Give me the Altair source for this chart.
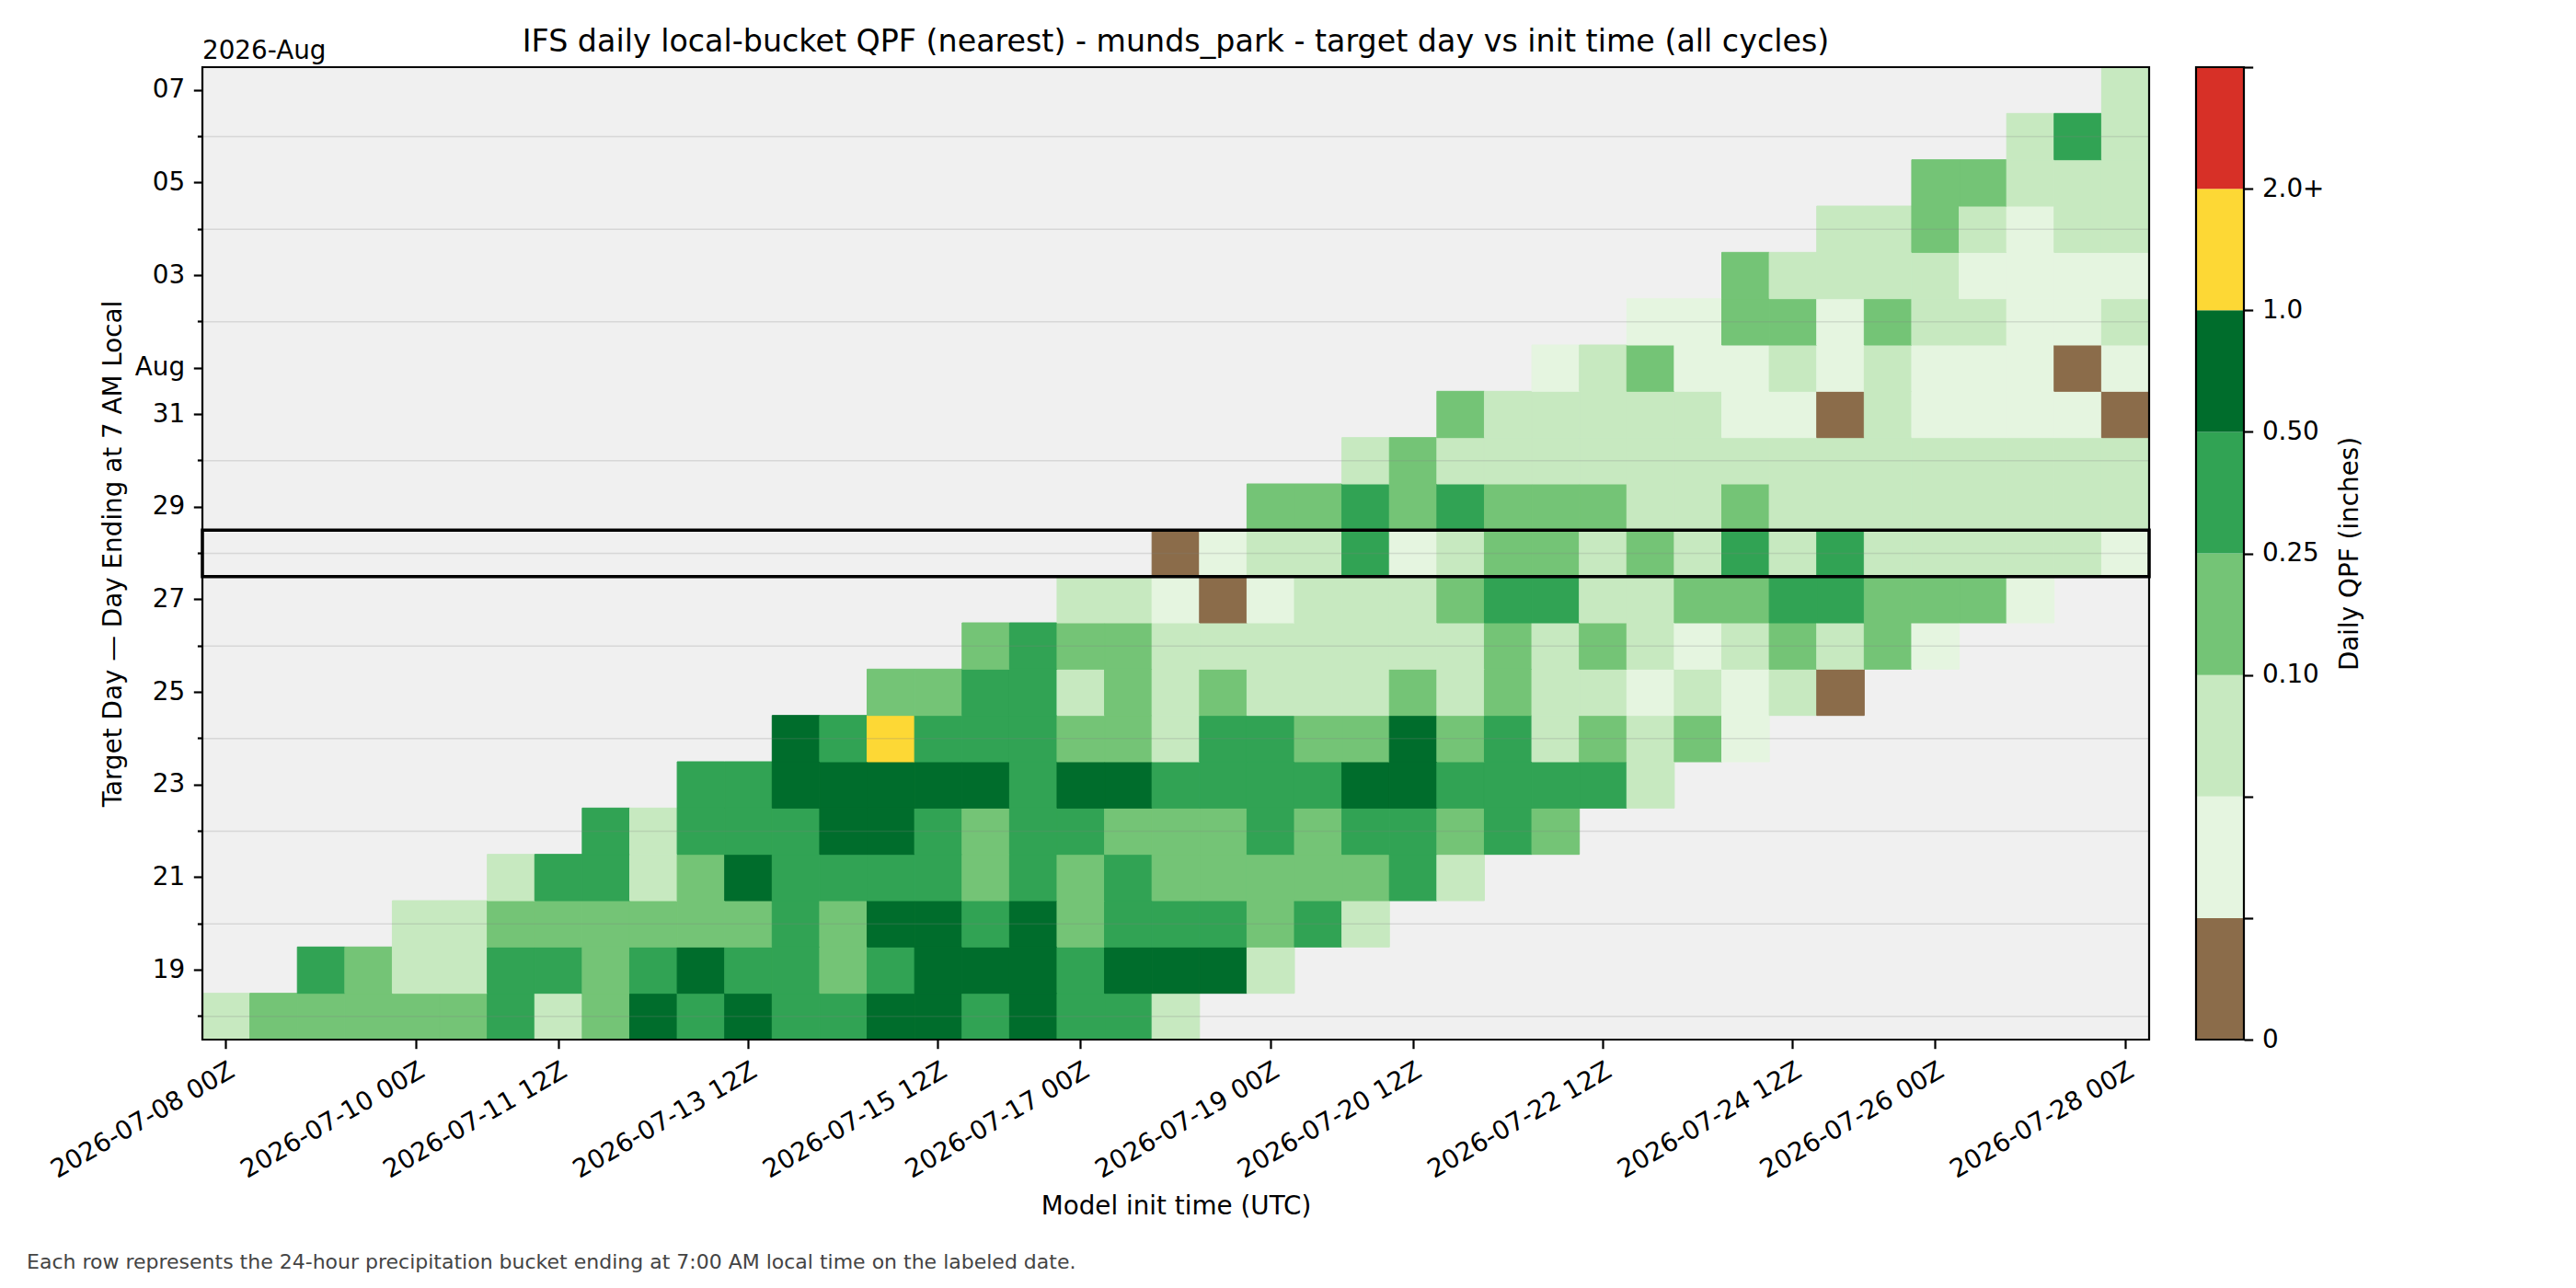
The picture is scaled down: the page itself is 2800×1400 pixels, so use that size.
import json

import altair as alt
import pandas as pd

# ---- layout (pixels) -------------------------------------------------------
W, H = 2116, 1057
PAD = {"left": 220, "top": 73, "right": 464, "bottom": 270}
FONT = "DejaVu Sans"
FS = 27.8          # 10 pt at 200 dpi
CBAR_X = (2167, 2219)

# ---- categories ------------------------------------------------------------
INIT_TIMES = list(
    pd.date_range("2026-07-08 00:00", "2026-07-28 00:00", freq="12h").strftime("%Y-%m-%d %HZ")
)
X_TICKS = [
    "2026-07-08 00Z", "2026-07-10 00Z", "2026-07-11 12Z", "2026-07-13 12Z",
    "2026-07-15 12Z", "2026-07-17 00Z", "2026-07-19 00Z", "2026-07-20 12Z",
    "2026-07-22 12Z", "2026-07-24 12Z", "2026-07-26 00Z", "2026-07-28 00Z",
]
TARGET_DAYS = list(pd.date_range("2026-07-18", "2026-08-07", freq="D").strftime("%Y-%m-%d"))

# ---- forecast QPF class per target day ---------------------------------------
# (index of first init cycle that covers the day, class code for each cycle)
# B: dry (<0.01"), v: 0.01-0.05, l: 0.05-0.10, m: 0.10-0.25, g: 0.25-0.50,
# d: 0.50-1.0, y: 1.0-2.0
QPF_ROWS = [
    (0,  "lmmmmmglmdgdggddgdggl"),   # Jul 18
    (2,  "gmllggmgdggmgdddgdddl"),   # Jul 19
    (4,  "llmmmmmmgmddgdmgggmgl"),   # Jul 20
    (6,  "lgglmdggggmgmgmmmmmgl"),   # Jul 21
    (8,  "glgggddgmggmmmgmggmgm"),   # Jul 22
    (10, "ggdddddgddggggddggggl"),   # Jul 23
    (12, "dgygggmmlggmmdmglmlmv"),   # Jul 24
    (14, "mmgglmlmlllmlmllvlvlB"),   # Jul 25
    (16, "mgmmlllllllmlmlvlmlmv"),   # Jul 26
    (18, "llvBvlllmggllmmggmmmv"),   # Jul 27
    (20, "Bvllgvlmmlmlglglllllv"),   # Jul 28
    (22, "mmgmgmmmllmllllllll"),     # Jul 29
    (24, "lmlllllllllllllll"),       # Jul 30
    (26, "mlllllvvBlvvvvB"),         # Jul 31
    (28, "vlmvvlvlvvvBv"),           # Aug 01
    (30, "vvmmvmllvvl"),             # Aug 02
    (32, "mllllvvvv"),               # Aug 03
    (34, "llmlvll"),                 # Aug 04
    (36, "mmlll"),                   # Aug 05
    (38, "lgl"),                     # Aug 06
    (40, "l"),                       # Aug 07
]
CLASS_QPF = {"B": 0.0, "v": 0.03, "l": 0.07, "m": 0.17, "g": 0.35, "d": 0.70, "y": 1.30}

# ---- colour classes ----------------------------------------------------------
BREAKS = [0.01, 0.05, 0.10, 0.25, 0.50, 1.0, 2.0]
PALETTE = ["#8b6c4a", "#e5f5e0", "#c7e9c0", "#74c476", "#31a354", "#006d2c", "#fdd835", "#d73027"]
BAND_QPF = [0.0, 0.03, 0.07, 0.17, 0.35, 0.70, 1.30, 2.50]
CBAR_LABELS = ["0", "", "", "0.10", "0.25", "0.50", "1.0", "2.0+", ""]

HIGHLIGHT_DAY = "2026-07-28"
TITLE = "IFS daily local-bucket QPF (nearest) - munds_park - target day vs init time (all cycles)"
NOTE = "Each row represents the 24-hour precipitation bucket ending at 7:00 AM local time on the labeled date."

# ---- tables ----------------------------------------------------------------
records = []
for day, (start, codes) in zip(TARGET_DAYS, QPF_ROWS):
    for k, code in enumerate(codes):
        records.append({"init": INIT_TIMES[start + k], "day": day, "qpf": CLASS_QPF[code]})
cells_df = pd.DataFrame(records)

grid_df = pd.DataFrame({"day": [d for d in TARGET_DAYS if int(d[-2:]) % 2 == 0]})
bands_df = pd.DataFrame({"lo": list(range(8)), "hi": list(range(1, 9)), "qpf": BAND_QPF})
one = pd.DataFrame({"k": [0]})

# ---- scales and axes -----------------------------------------------------------
X_SCALE = alt.Scale(domain=INIT_TIMES, paddingInner=0, paddingOuter=0)
Y_SCALE = alt.Scale(domain=TARGET_DAYS[::-1], paddingInner=0, paddingOuter=0)
FILL_SCALE = alt.Scale(type="threshold", domain=BREAKS, range=PALETTE)

ODD_DAY = "toNumber(slice(datum.value, 8, 10)) % 2 == 1"
y_label_expr = (
    f"({ODD_DAY}) ? (slice(datum.value, 8, 10) == '01' ? utcFormat(toDate(datum.value), '%b') "
    ": slice(datum.value, 8, 10)) : ''"
)

x_axis = alt.Axis(
    values=X_TICKS, labelAngle=-30, labelAlign="right", labelBaseline="top",
    labelPadding=9.7, tickSize=9.7, labelOverlap=False, labelBound=False, labelFlush=False,
    labelLimit=0,
    title="Model init time (UTC)", titleX=W / 2, titleY=189,
    titleAlign="center", titleBaseline="alphabetic",
)
y_axis = alt.Axis(
    values=TARGET_DAYS, labelExpr=y_label_expr, labelOverlap=False, labelPadding=9.7,
    labelLimit=0,
    tickSize={"condition": {"test": ODD_DAY, "value": 9.7}, "value": 5.6},
    title="Target Day \u2014 Day Ending at 7 AM Local", titleX=-89, titleY=H / 2,
    titleAngle=270, titleAlign="center", titleBaseline="alphabetic",
)
Y_DAY = alt.Y("day:O", scale=Y_SCALE, axis=y_axis)

# ---- heatmap panel -------------------------------------------------------------
cells = alt.Chart(cells_df).mark_rect(strokeWidth=1).encode(
    x=alt.X("init:O", scale=X_SCALE, axis=x_axis),
    y=Y_DAY,
    fill=alt.Fill("qpf:Q", scale=FILL_SCALE, legend=None),
    stroke=alt.Stroke("qpf:Q", scale=FILL_SCALE, legend=None),
)

grid = alt.Chart(grid_df).mark_rule(color="#7f7f7f", opacity=0.22, strokeWidth=1.5).encode(
    y=Y_DAY,
    x=alt.value(0),
    x2=alt.value(W),
)

highlight = alt.Chart(pd.DataFrame({"day": [HIGHLIGHT_DAY]})).mark_rect(
    fillOpacity=0, stroke="black", strokeWidth=3.5
).encode(
    y=Y_DAY,
    x=alt.value(0),
    x2=alt.value(W),
)

frame = alt.Chart(one).mark_rect(fillOpacity=0, stroke="black", strokeWidth=2.2).encode(
    x=alt.value(0), x2=alt.value(W), y=alt.value(0), y2=alt.value(H)
)

title_txt = alt.Chart(one).mark_text(
    text=TITLE, font=FONT, fontSize=33.3, align="center", baseline="alphabetic", color="black"
).encode(x=alt.value(W / 2), y=alt.value(-16.7))

offset_txt = alt.Chart(one).mark_text(
    text="2026-Aug", font=FONT, fontSize=FS, align="left", baseline="alphabetic", color="black"
).encode(x=alt.value(0), y=alt.value(-9.5))

note_txt = alt.Chart(one).mark_text(
    text=NOTE, font=FONT, fontSize=22.0, align="left", baseline="alphabetic", color="#444444"
).encode(x=alt.value(-191), y=alt.value(1306))

main = alt.layer(cells, grid, highlight, frame, title_txt, offset_txt, note_txt)

# ---- colour bar ----------------------------------------------------------------
CB_Y = alt.Scale(domain=[0, 8], nice=False, zero=False)
cbar_axis = alt.Axis(
    orient="right", offset=CBAR_X[1] - W, values=list(range(9)),
    labelExpr=f"{json.dumps(CBAR_LABELS)}[datum.value]",
    tickSize=9.7, labelPadding=9.7, labelAlign="left", labelBaseline="middle",
    labelOverlap=False, labelFlush=False, labelBound=False,
    title="Daily QPF (inches)", titleX=123, titleY=H / 2, titleAngle=270,
    titleAlign="center", titleBaseline="alphabetic",
)
CB_LO = alt.Y("lo:Q", scale=CB_Y, axis=cbar_axis)
cbar_bands = alt.Chart(bands_df).mark_rect().encode(
    y=CB_LO,
    y2="hi:Q",
    x=alt.value(CBAR_X[0]),
    x2=alt.value(CBAR_X[1]),
    fill=alt.Fill("qpf:Q", scale=FILL_SCALE, legend=None),
)
cbar_frame = alt.Chart(pd.DataFrame({"lo": [0], "hi": [8]})).mark_rect(
    fillOpacity=0, stroke="black", strokeWidth=2.2
).encode(
    y=CB_LO,
    y2="hi:Q",
    x=alt.value(CBAR_X[0]),
    x2=alt.value(CBAR_X[1]),
)
cbar = alt.layer(cbar_bands, cbar_frame)

chart = (
    alt.layer(main, cbar)
    .resolve_scale(y="independent")
    .properties(width=W, height=H, padding=PAD, autosize=alt.AutoSizeParams(type="none"))
    .configure_view(fill="#f0f0f0", strokeWidth=0)
    .configure_axis(
        labelFont=FONT, titleFont=FONT, labelFontSize=FS, titleFontSize=FS,
        labelColor="black", titleColor="black", tickColor="black", tickWidth=2.2,
        domain=False, grid=False, titleFontWeight="normal",
    )
)

chart.save("out.html", embed_options={"renderer": "svg", "actions": False})
